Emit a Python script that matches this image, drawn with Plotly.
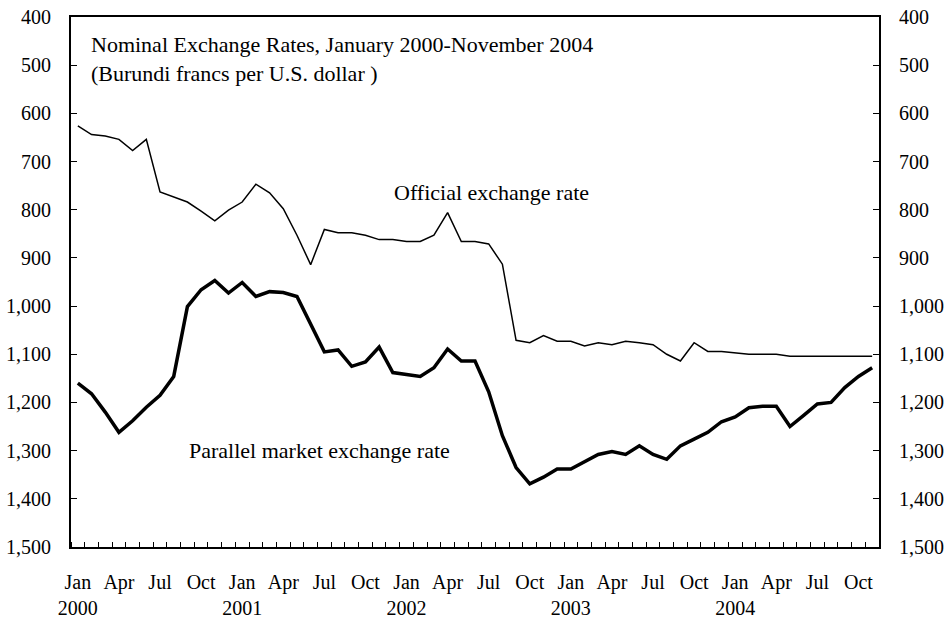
import plotly.graph_objects as go

months = list(range(59))  # Jan 2000 .. Nov 2004

official = [626, 644, 647, 654, 677, 654, 763, 774, 784, 803, 823, 801,
            784, 747, 765, 798, 853, 914, 841, 848, 848, 853, 862, 862,
            866, 866, 853, 806, 866, 866, 871, 913, 1071, 1076, 1061, 1073,
            1073, 1083, 1076, 1080, 1073, 1076, 1080, 1100, 1114, 1076, 1094, 1094,
            1097, 1100, 1100, 1100, 1104, 1104, 1104, 1104, 1104, 1104, 1104]

parallel = [1160, 1182, 1220, 1262, 1238, 1210, 1185, 1146, 1001, 966, 947, 973,
            951, 980, 970, 972, 980, 1036, 1095, 1091, 1125, 1116, 1085, 1138,
            1142, 1146, 1128, 1089, 1114, 1114, 1178, 1269, 1335, 1369, 1355, 1338,
            1338, 1322, 1308, 1302, 1308, 1290, 1308, 1318, 1290, 1276, 1262, 1240,
            1230, 1211, 1208, 1208, 1250, 1227, 1203, 1200, 1169, 1146, 1128]

tick_positions = [0, 3, 6, 9, 12, 15, 18, 21, 24, 27, 30, 33, 36, 39, 42, 45, 48, 51, 54, 57]
tick_labels = ["Jan<br>2000", "Apr", "Jul", "Oct",
               "Jan<br>2001", "Apr", "Jul", "Oct",
               "Jan<br>2002", "Apr", "Jul", "Oct",
               "Jan<br>2003", "Apr", "Jul", "Oct",
               "Jan<br>2004", "Apr", "Jul", "Oct"]

y_ticks = [400, 500, 600, 700, 800, 900, 1000, 1100, 1200, 1300, 1400, 1500]

FONT = "Liberation Serif, Times New Roman, serif"

fig = go.Figure()
fig.add_trace(go.Scatter(x=months, y=official, mode="lines",
                         line=dict(color="black", width=1.5), showlegend=False))
fig.add_trace(go.Scatter(x=months, y=parallel, mode="lines",
                         line=dict(color="black", width=3.5), showlegend=False))
# invisible trace to activate right axis
fig.add_trace(go.Scatter(x=[months[0]], y=[official[0]], yaxis="y2", mode="lines",
                         line=dict(width=0), showlegend=False, hoverinfo="skip"))

fig.update_layout(
    width=948, height=623,
    margin=dict(l=71, r=69, t=17, b=76, autoexpand=False),
    paper_bgcolor="white", plot_bgcolor="white",
    font=dict(family=FONT, size=20, color="black"),
    xaxis=dict(range=[-0.5, 58.5], tickmode="array", tickvals=tick_positions,
               ticktext=tick_labels, ticks="", showgrid=False, zeroline=False,
               showline=True, linecolor="black", linewidth=2, mirror=True,
               ticklabelstandoff=16, automargin=False,
               minor=dict(tick0=-0.5, dtick=1, ticks="inside", ticklen=5,
                          tickcolor="black", tickwidth=1, showgrid=False)),
    yaxis=dict(range=[1500, 400], tickmode="array", tickvals=y_ticks,
               tickformat=",", ticks="inside", ticklen=6, tickcolor="black",
               showgrid=False, zeroline=False, showline=True, linecolor="black",
               linewidth=2, ticklabelstandoff=14, automargin=False),
    yaxis2=dict(range=[1500, 400], tickmode="array", tickvals=y_ticks,
                tickformat=",", ticks="inside", ticklen=6, tickcolor="black",
                overlaying="y", side="right", showgrid=False, zeroline=False,
                showline=True, linecolor="black", linewidth=2, ticklabelstandoff=14,
                automargin=False),
    annotations=[
        dict(text="Nominal Exchange Rates, January 2000-November 2004<br>(Burundi francs per U.S. dollar )",
             xref="paper", yref="paper", x=0.022, y=0.975, xanchor="left", yanchor="top",
             align="left", showarrow=False, font=dict(size=22)),
        dict(text="Official exchange rate", xref="paper", yref="paper",
             x=0.397, y=0.668, xanchor="left", yanchor="middle",
             showarrow=False, font=dict(size=22)),
        dict(text="Parallel market exchange rate", xref="paper", yref="paper",
             x=0.143, y=0.182, xanchor="left", yanchor="middle",
             showarrow=False, font=dict(size=22)),
    ],
)

fig.write_html("out.html",
               config={"displayModeBar": False},
               post_script="document.body.style.margin='0';document.body.style.overflow='hidden';")
